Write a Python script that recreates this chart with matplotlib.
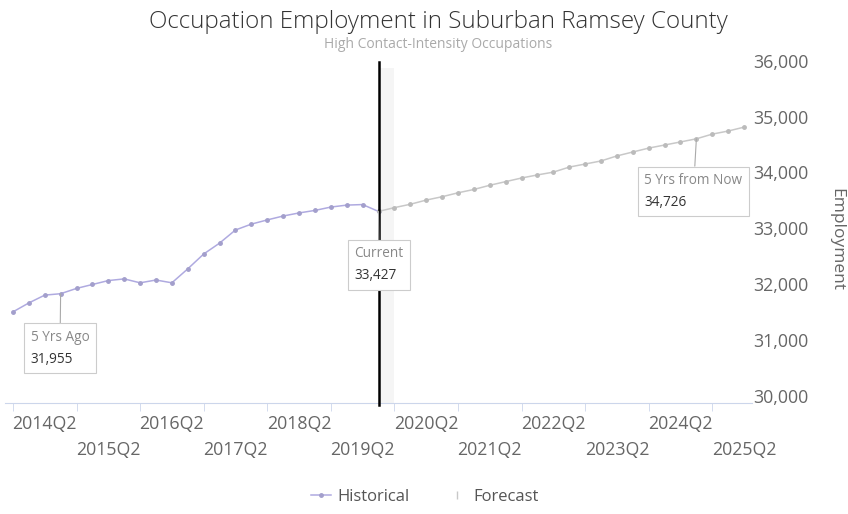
import matplotlib.pyplot as plt
from matplotlib.lines import Line2D
from matplotlib.transforms import ScaledTranslation
from matplotlib.offsetbox import AnnotationBbox, TextArea, VPacker

plt.rcParams['font.family'] = ['Open Sans', 'DejaVu Sans']

# quarters from 2013Q4 to 2025Q2
quarters = ['2013Q4'] + [f'{y}Q{q}' for y in range(2014, 2025) for q in range(1, 5)] + ['2025Q1', '2025Q2']

historical = [31630, 31790, 31930, 31955, 32050, 32120, 32190, 32220, 32150, 32200,
              32150, 32400, 32665, 32860, 33095, 33200, 33275, 33345, 33400, 33445,
              33505, 33540, 33550, 33427]
forecast = [33427, 33495, 33555, 33630, 33690, 33760, 33820, 33895, 33960, 34025,
            34080, 34130, 34220, 34275, 34330, 34420, 34490, 34560, 34615, 34670,
            34726, 34810, 34865, 34935]

label_quarters = ['2014Q2', '2015Q2', '2016Q2', '2017Q2', '2018Q2', '2019Q2',
                  '2020Q2', '2021Q2', '2022Q2', '2023Q2', '2024Q2', '2025Q2']
y_ticks = [30000, 31000, 32000, 33000, 34000, 35000, 36000]

callouts = [('5 Yrs Ago', '2014Q3', (-30, -36)),
            ('Current', '2019Q3', (-24, -35)),
            ('5 Yrs from Now', '2024Q3', (-52, -34))]

hist_color = '#afaae0'
fc_color = '#c8c8c8'

fig = plt.figure(figsize=(8.48, 5.14), dpi=100)
ax = fig.add_axes([5 / 848, 111 / 514, 747 / 848, 335.4 / 514])

n_hist = len(historical)
x_hist = list(range(n_hist))
x_fc = list(range(n_hist - 1, n_hist - 1 + len(forecast)))
values = historical[:-1] + forecast

ax.axvspan(n_hist - 1, n_hist, ymax=1.017, color='#f5f5f5', lw=0, zorder=0)
ax.plot(x_hist, historical, color=hist_color, lw=1.1, marker='o', ms=2.5,
        mec='#a39fcc', mfc='#a39fcc', zorder=3)
ax.plot(x_fc, forecast, color=fc_color, lw=1.1, marker='o', ms=2.5,
        mec='#bbbbbb', mfc='#bbbbbb', zorder=3)
ax.axvline(n_hist - 1, ymin=-0.005, ymax=1.017, clip_on=False, color='black', lw=1.8, zorder=4)

ax.set_xlim(-0.5, len(quarters) - 0.5)
ax.set_ylim(30000, 36000)

for side in ['top', 'left', 'right']:
    ax.spines[side].set_visible(False)
ax.spines['bottom'].set_color('#ccd6eb')

ax.set_xticks([quarters.index(q) for q in label_quarters])
ax.set_xticklabels(label_quarters, color='#666666', fontsize=12.8)
ax.set_xticks(list(range(0, len(quarters), 4)), minor=True)
ax.tick_params(axis='x', which='major', length=0, pad=9)
ax.tick_params(axis='x', which='minor', length=6, color='#ccd6eb')
for i, lab in enumerate(ax.get_xticklabels()):
    if i % 2 == 1:
        lab.set_transform(lab.get_transform() + ScaledTranslation(0, -0.26, fig.dpi_scale_trans))

ax.yaxis.tick_right()
ax.set_yticks(y_ticks)
ax.set_yticklabels([f'{v:,}' for v in y_ticks], color='#666666', fontsize=12.8)
ax.tick_params(axis='y', length=0, pad=1)
for lab in ax.get_yticklabels():
    lab.set_transform(lab.get_transform() + ScaledTranslation(0, 0.07, fig.dpi_scale_trans))

for name, q, off in callouts:
    i = quarters.index(q)
    v = values[i]
    box = VPacker(children=[TextArea(name, textprops=dict(fontsize=9.8, color='#888888')),
                            TextArea(f'{v:,}', textprops=dict(fontsize=9.8, color='#333333'))],
                  align='left', pad=0, sep=5)
    ab = AnnotationBbox(box, (i, v), xybox=off, boxcoords='offset pixels',
                        box_alignment=(0, 1), pad=0.45,
                        bboxprops=dict(fc='white', ec='#cccccc', lw=0.8),
                        arrowprops=dict(arrowstyle='-', color='#aaaaaa', lw=0.8, shrinkA=0, shrinkB=0))
    ab.set_zorder(5)
    ax.add_artist(ab)

fig.text(438 / 848, 1 - 22 / 514, 'Occupation Employment in Suburban Ramsey County',
         ha='center', va='center', fontsize=17.4, color='#333333', fontweight='light')
fig.text(438 / 848, 1 - 45 / 514, 'High Contact-Intensity Occupations',
         ha='center', va='center', fontsize=10, color='#aaaaaa')
fig.text(836 / 848, 1 - 240 / 514, 'Employment', rotation=270,
         ha='center', va='center', fontsize=12.5, color='#666666')

handles = [Line2D([], [], color=hist_color, marker='o', ms=2.5, mfc='#a39fcc', mec='#a39fcc', lw=1.1),
           Line2D([], [], color='none', marker='|', ms=6, mec='#c8c8c8')]
fig.legend(handles, ['Historical', 'Forecast'], loc='center', ncol=2,
           bbox_to_anchor=(425 / 848, 1 - 497 / 514), frameon=False, fontsize=12,
           labelcolor='#555555', handlelength=1.2, handletextpad=0.4, columnspacing=2.2)

fig.savefig('out.png', dpi=100)
